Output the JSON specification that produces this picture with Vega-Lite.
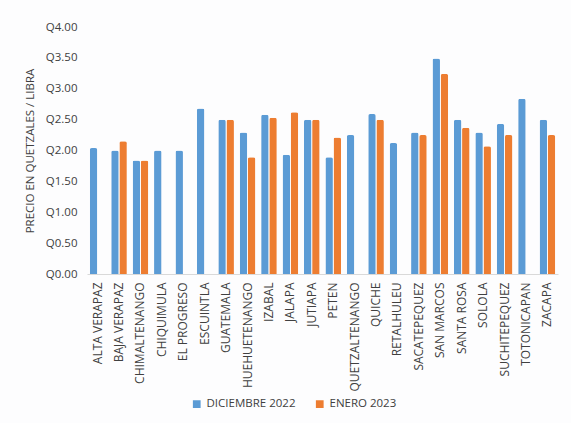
{
  "$schema": "https://vega.github.io/schema/vega-lite/v6.json",
  "width": 471,
  "height": 247,
  "autosize": {"type": "none"},
  "padding": {"left": 87, "top": 27, "right": 13, "bottom": 149},
  "background": "#fdfdfe",
  "config": {
    "font": "Open Sans",
    "view": {"stroke": null},
    "axis": {"labelColor": "#404040", "titleColor": "#404040", "labelFont": "Open Sans", "titleFont": "Open Sans"},
    "legend": {"labelFont": "Open Sans", "labelColor": "#404040"}
  },
  "data": {
    "values": [
      {"depto": "ALTA VERAPAZ", "mes": "DICIEMBRE 2022", "precio": 2.04},
      {"depto": "BAJA VERAPAZ", "mes": "DICIEMBRE 2022", "precio": 2.00},
      {"depto": "BAJA VERAPAZ", "mes": "ENERO 2023", "precio": 2.15},
      {"depto": "CHIMALTENANGO", "mes": "DICIEMBRE 2022", "precio": 1.84},
      {"depto": "CHIMALTENANGO", "mes": "ENERO 2023", "precio": 1.84},
      {"depto": "CHIQUIMULA", "mes": "DICIEMBRE 2022", "precio": 2.00},
      {"depto": "EL PROGRESO", "mes": "DICIEMBRE 2022", "precio": 2.00},
      {"depto": "ESCUINTLA", "mes": "DICIEMBRE 2022", "precio": 2.68},
      {"depto": "GUATEMALA", "mes": "DICIEMBRE 2022", "precio": 2.50},
      {"depto": "GUATEMALA", "mes": "ENERO 2023", "precio": 2.50},
      {"depto": "HUEHUETENANGO", "mes": "DICIEMBRE 2022", "precio": 2.29},
      {"depto": "HUEHUETENANGO", "mes": "ENERO 2023", "precio": 1.89},
      {"depto": "IZABAL", "mes": "DICIEMBRE 2022", "precio": 2.58},
      {"depto": "IZABAL", "mes": "ENERO 2023", "precio": 2.53},
      {"depto": "JALAPA", "mes": "DICIEMBRE 2022", "precio": 1.93},
      {"depto": "JALAPA", "mes": "ENERO 2023", "precio": 2.62},
      {"depto": "JUTIAPA", "mes": "DICIEMBRE 2022", "precio": 2.50},
      {"depto": "JUTIAPA", "mes": "ENERO 2023", "precio": 2.50},
      {"depto": "PETEN", "mes": "DICIEMBRE 2022", "precio": 1.89},
      {"depto": "PETEN", "mes": "ENERO 2023", "precio": 2.21},
      {"depto": "QUETZALTENANGO", "mes": "DICIEMBRE 2022", "precio": 2.25},
      {"depto": "QUICHE", "mes": "DICIEMBRE 2022", "precio": 2.59},
      {"depto": "QUICHE", "mes": "ENERO 2023", "precio": 2.50},
      {"depto": "RETALHULEU", "mes": "DICIEMBRE 2022", "precio": 2.12},
      {"depto": "SACATEPEQUEZ", "mes": "DICIEMBRE 2022", "precio": 2.29},
      {"depto": "SACATEPEQUEZ", "mes": "ENERO 2023", "precio": 2.25},
      {"depto": "SAN MARCOS", "mes": "DICIEMBRE 2022", "precio": 3.49},
      {"depto": "SAN MARCOS", "mes": "ENERO 2023", "precio": 3.24},
      {"depto": "SANTA ROSA", "mes": "DICIEMBRE 2022", "precio": 2.50},
      {"depto": "SANTA ROSA", "mes": "ENERO 2023", "precio": 2.37},
      {"depto": "SOLOLA", "mes": "DICIEMBRE 2022", "precio": 2.29},
      {"depto": "SOLOLA", "mes": "ENERO 2023", "precio": 2.07},
      {"depto": "SUCHITEPEQUEZ", "mes": "DICIEMBRE 2022", "precio": 2.43},
      {"depto": "SUCHITEPEQUEZ", "mes": "ENERO 2023", "precio": 2.25},
      {"depto": "TOTONICAPAN", "mes": "DICIEMBRE 2022", "precio": 2.84},
      {"depto": "ZACAPA", "mes": "DICIEMBRE 2022", "precio": 2.50},
      {"depto": "ZACAPA", "mes": "ENERO 2023", "precio": 2.25}
    ]
  },
  "mark": {"type": "bar", "cornerRadiusTopLeft": 2, "cornerRadiusTopRight": 2},
  "encoding": {
    "x": {
      "field": "depto", "type": "nominal", "sort": null,
      "scale": {"paddingInner": 0.27, "paddingOuter": 0.13},
      "axis": {"title": null, "labelAngle": -90, "labelFontSize": 12, "ticks": false, "domainColor": "#d9d9d9", "labelPadding": 8, "labelAlign": "right", "labelBaseline": "middle"}
    },
    "xOffset": {"field": "mes", "type": "nominal", "sort": ["DICIEMBRE 2022", "ENERO 2023"], "scale": {"paddingInner": 0.08}},
    "y": {
      "field": "precio", "type": "quantitative",
      "scale": {"domain": [0, 4]},
      "axis": {"title": "PRECIO EN QUETZALES / LIBRA", "titleFontSize": 11.5, "titleFontWeight": "normal", "titlePadding": 10, "values": [0, 0.5, 1, 1.5, 2, 2.5, 3, 3.5, 4], "labelExpr": "'Q' + format(datum.value, '.2f')", "labelFontSize": 11.5, "grid": false, "domain": false, "ticks": false, "labelPadding": 10}
    },
    "color": {
      "field": "mes", "type": "nominal",
      "scale": {"domain": ["DICIEMBRE 2022", "ENERO 2023"], "range": ["#5b9bd5", "#ed7d31"]},
      "legend": {"title": null, "orient": "none", "legendX": 104, "legendY": 371, "direction": "horizontal", "symbolType": "square", "symbolSize": 60, "labelFontSize": 11.5, "columnPadding": 18}
    }
  }
}
